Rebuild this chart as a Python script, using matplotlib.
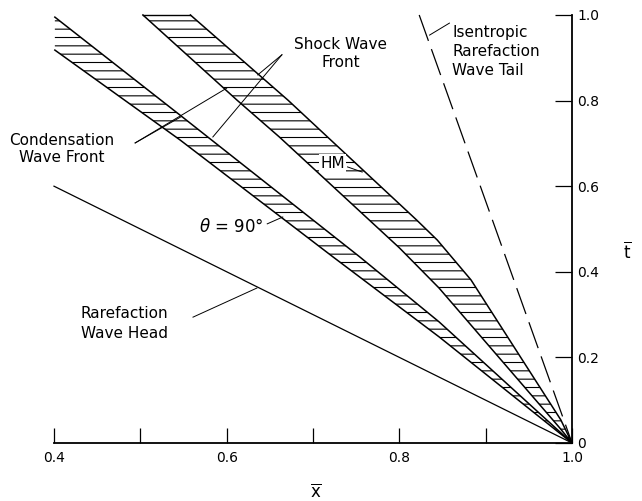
import matplotlib
matplotlib.use("Agg")
import matplotlib.pyplot as plt
import numpy as np

# band boundaries (x, t), all meeting at (1, 0)
hm_shock_x = [0.558, 0.671, 0.820, 0.844, 0.883, 0.987, 1.0]
hm_shock_t = [1.000, 0.801, 0.521, 0.474, 0.381, 0.054, 0.0]
hm_cond_x = [0.503, 0.612, 0.661, 0.800, 0.846, 0.985, 1.0]
hm_cond_t = [1.000, 0.801, 0.715, 0.456, 0.362, 0.037, 0.0]

th_shock_x = [0.401, 0.546, 0.754, 0.846, 1.0]
th_shock_t = [0.995, 0.766, 0.435, 0.283, 0.0]
th_cond_x = [0.401, 0.546, 0.723, 0.846, 1.0]
th_cond_t = [0.918, 0.708, 0.435, 0.248, 0.0]

head_x = [0.4, 1.0]
head_t = [0.6, 0.0]
tail_x = [0.823, 1.0]
tail_t = [1.0, 0.0]

# leader lines: (x0, t0, x1, t1)
leaders = [
    (0.664, 0.907, 0.636, 0.860),   # shock -> HM band
    (0.664, 0.907, 0.584, 0.715),   # shock -> theta band
    (0.494, 0.701, 0.600, 0.829),   # condensation -> HM band
    (0.494, 0.701, 0.547, 0.762),   # condensation -> theta band
    (0.561, 0.294, 0.635, 0.362),   # rarefaction head
    (0.858, 0.981, 0.835, 0.953),   # isentropic tail
    (0.740, 0.645, 0.757, 0.633),   # HM
    (0.647, 0.512, 0.665, 0.528),   # theta = 90
]

x_ticks = [0.4, 0.6, 0.8, 1.0]
x_ticklabels = ["0.4", "0.6", "0.8", "1.0"]
x_minor = [0.5, 0.7, 0.9]
t_ticks = [0.0, 0.2, 0.4, 0.6, 0.8, 1.0]
t_ticklabels = ["0", "0.2", "0.4", "0.6", "0.8", "1.0"]

plt.rcParams["font.family"] = "DejaVu Sans"
plt.rcParams["mathtext.fontset"] = "dejavusans"
plt.rcParams["hatch.linewidth"] = 0.8

fig = plt.figure(figsize=(6.42, 5.01), dpi=100)
ax = fig.add_axes([0.0841, 0.1158, 0.8069, 0.8543])

# hatched bands
for sx, st, cx, ct in [(hm_shock_x, hm_shock_t, hm_cond_x, hm_cond_t),
                       (th_shock_x, th_shock_t, th_cond_x, th_cond_t)]:
    ax.fill(np.r_[sx, cx[::-1]], np.r_[st, ct[::-1]], facecolor="none",
            edgecolor="black", hatch="--", linewidth=0)
    ax.plot(sx, st, color="black", lw=1.1, clip_on=False)
    ax.plot(cx, ct, color="black", lw=1.1, clip_on=False)
ax.plot([hm_cond_x[0], hm_shock_x[0]], [hm_cond_t[0], hm_shock_t[0]],
        color="black", lw=1.0, clip_on=False)

ax.plot(head_x, head_t, color="black", lw=0.9, clip_on=False)
ax.plot(tail_x, tail_t, color="black", lw=0.9, ls=(0, (22, 7)), clip_on=False)

for x0, t0, x1, t1 in leaders:
    ax.plot([x0, x1], [t0, t1], color="black", lw=0.7, clip_on=False)

fs = 11
ax.text(0.732, 0.911, "Shock Wave\nFront", ha="center", va="center",
        fontsize=fs, linespacing=1.25)
ax.text(0.409, 0.687, "Condensation\nWave Front", ha="center", va="center",
        fontsize=fs, linespacing=1.2)
ax.text(0.482, 0.279, "Rarefaction\nWave Head", ha="center", va="center",
        fontsize=fs, linespacing=1.45)
ax.text(0.861, 0.914, "Isentropic\nRarefaction\nWave Tail", ha="left",
        va="center", fontsize=fs, linespacing=1.35)
ax.text(0.7225, 0.654, "HM", ha="center", va="center", fontsize=fs,
        bbox=dict(facecolor="white", edgecolor="none", pad=0.8))
ax.text(0.605, 0.505, r"$\theta$ = 90°", ha="center", va="center",
        fontsize=12, bbox=dict(facecolor="white", edgecolor="none", pad=0.5))

ax.text(0.703, -0.114, r"$\overline{\mathrm{x}}$", ha="center", va="center",
        fontsize=12, clip_on=False)
ax.text(1.064, 0.446, r"$\overline{\mathrm{t}}$", ha="center", va="center",
        fontsize=12, clip_on=False)

ax.set_xlim(0.4, 1.0)
ax.set_ylim(0.0, 1.0)
for side in ["top", "left"]:
    ax.spines[side].set_visible(False)
for side in ["bottom", "right"]:
    ax.spines[side].set_linewidth(1.3)

ax.set_xticks(x_ticks)
ax.set_xticklabels(x_ticklabels)
ax.set_xticks(x_minor, minor=True)
ax.yaxis.tick_right()
ax.set_yticks(t_ticks)
ax.set_yticklabels(t_ticklabels)
ax.tick_params(axis="x", which="both", direction="in", length=11, width=0.9,
               labelsize=10, pad=6)
ax.tick_params(axis="y", which="both", direction="in", length=12, width=0.9,
               labelsize=10, pad=4, left=False, right=True)

fig.savefig("out.png", dpi=100)
